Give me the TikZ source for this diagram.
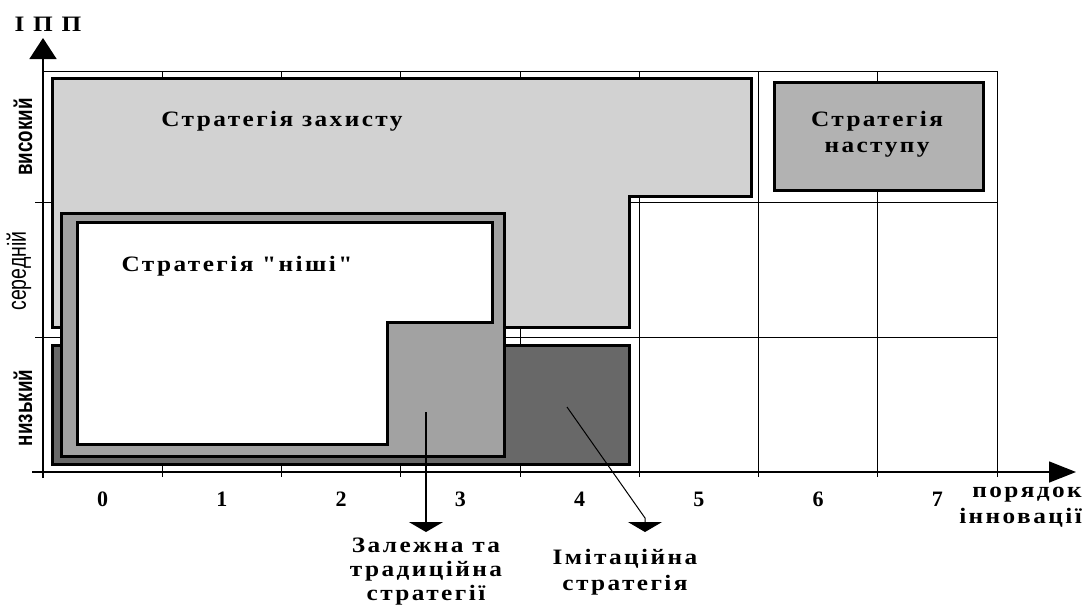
\documentclass[tikz,border=0pt]{standalone}
\usepackage{fontspec}
\setmainfont{Liberation Serif}
\newfontfamily\labelfont[LetterSpace=11,FakeStretch=1.15]{Liberation Serif}
\newfontfamily\narrowfont[FakeStretch=0.75]{Liberation Sans}
\usetikzlibrary{arrows.meta}
\definecolor{defence}{HTML}{D2D2D2}
\definecolor{attack}{HTML}{B2B2B2}
\definecolor{dependent}{HTML}{A2A2A2}
\definecolor{imitation}{HTML}{686868}
\tikzset {
zone/.style={draw=black,line width=3pt},
gridline/.style={line width=1pt},
axis/.style={line width=1.5pt},
strat/.style={font=\labelfont\bfseries\fontsize{22}{26}\selectfont,align=center,inner sep=0pt},
level/.style={font=\narrowfont\fontsize{26}{26}\selectfont,rotate=90,inner sep=0pt},
number/.style={font=\bfseries\fontsize{22}{22}\selectfont,inner sep=0pt},
pointer/.style={-{Triangle[length=10pt,width=34pt]}}
}
\begin{document}
\begin{tikzpicture}[x=1pt,y=-1pt]
\useasboundingbox (0,0) rectangle (1084,608);
% grid
\foreach \i in {1,...,8}
  \draw[gridline] ({43+119.25*\i},71) -- ({43+119.25*\i},477);
\draw[gridline] (43,71) -- (997,71);
\foreach \y in {202,337}
  \draw[gridline] (35,\y) -- (997,\y);
% axes
\coordinate (x start) at (32,472);
\coordinate (x end) at (1076,472);
\coordinate (y start) at (43,478);
\coordinate (y end) at (43,38);
\draw[axis,-{Triangle[length=27pt,width=21pt]}] (x start) -- (x end);
\draw[axis,-{Triangle[length=21pt,width=27pt]}] (y start) -- (y end);
% zones
\filldraw[zone,fill=defence] (52,78) -- (751,78) -- (751,196) -- (629,196) -- (629,327) -- (52,327) -- cycle;
\filldraw[zone,fill=imitation] (52,345) rectangle (629,464);
\filldraw[zone,fill=dependent] (61,213) rectangle (504,456);
\filldraw[zone,fill=white] (77,222) -- (492,222) -- (492,322) -- (387,322) -- (387,444) -- (77,444) -- cycle;
\filldraw[zone,fill=attack] (774,82) rectangle (983,190);
% labels
\node[strat] (defence label) at (282,121) {Стратегія захисту};
\node[strat] (niche label) at (237,266) {Стратегія "ніші"};
\node[strat] (attack label) at (877,134) {Стратегія\\наступу};
\node[strat,font=\labelfont\bfseries\fontsize{22}{25}\selectfont] (ipp label) at (48,24) {І П П};
\node[level,font=\narrowfont\bfseries\fontsize{25}{25}\selectfont] (high) at (23,137) {високий};
\node[level] (middle) at (19,271) {середній};
\node[level,font=\narrowfont\bfseries\fontsize{25}{25}\selectfont] (low) at (23,408) {низький};
\foreach \n in {0,...,7}
  \node[number] (num \n) at ({102.6+119.25*\n},499) {\n};
\node[strat,anchor=east,align=right] (order label) at (1082,507) {порядок\\інновації};
\node[strat,font=\labelfont\bfseries\fontsize{22}{24}\selectfont] (dependent label) at (426,572) {Залежна та\\традиційна\\стратегії};
\node[strat] (imitation label) at (625,572) {Імітаційна\\стратегія};
% pointers
\coordinate (dependent point) at (426,412);
\coordinate (dependent tip) at (426,532);
\coordinate (imitation point) at (567,407);
\coordinate (imitation bend) at (645,518);
\coordinate (imitation tip) at (645,532);
\draw[pointer,line width=2pt] (dependent point) -- (dependent tip);
\draw[pointer,line width=1pt] (imitation point) -- (imitation bend) -- (imitation tip);
\end{tikzpicture}
\end{document}
